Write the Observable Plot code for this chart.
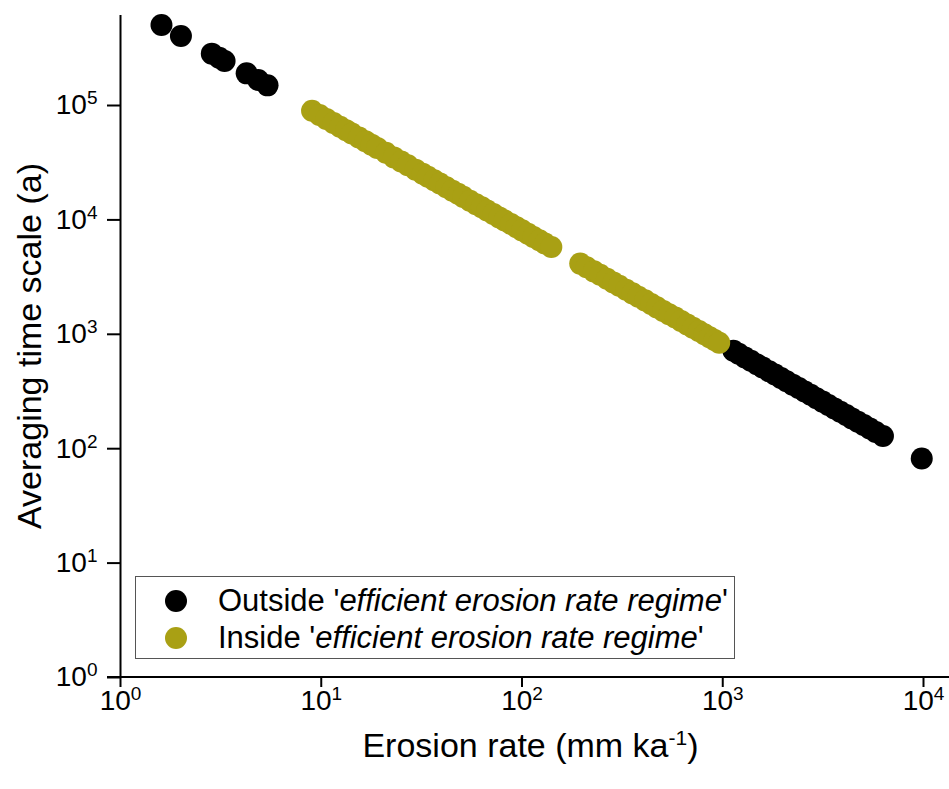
<!DOCTYPE html>
<html>
<head>
<meta charset="utf-8">
<script src="https://cdn.jsdelivr.net/npm/d3@7"></script>
<script src="https://cdn.jsdelivr.net/npm/@observablehq/plot@0.6"></script>
<style>
  body { margin: 0; background: #fff; }
  #wrap { position: relative; width: 949px; height: 789px; font-family: "Liberation Sans", Arial, sans-serif; }
  .legend { position: absolute; left: 135px; top: 576px; width: 600px; height: 83px; border: 1px solid #555; background: #fff; box-sizing: border-box; }
  .row { position: absolute; left: 29px; height: 34px; display: flex; align-items: center; font-size: 31px; color: #000; white-space: nowrap; }
  .sw { width: 22px; height: 22px; border-radius: 50%; margin-right: 31px; flex: none; }
</style>
</head>
<body>
<div id="wrap"></div>
<script>
// ---- data ----
const seriesNames = ["Outside", "Inside"];
const seriesColors = ["#000000", "#a9a014"];
const legendLabels = ["Outside '<i>efficient erosion rate regime</i>'", "Inside '<i>efficient erosion rate regime</i>'"];

// erosion rate (mm/ka) and averaging time scale (a), outside regime
const outsideRate = [1.6, 2.0, 2.85, 3.1, 3.3, 4.25, 4.85, 5.4,
  1130, 1200, 1290, 1380, 1480, 1580, 1700, 1820, 1950, 2080, 2230, 2390, 2560, 2740, 2930, 3140, 3360, 3600, 3850, 4120, 4400, 4710, 5040, 5400, 5780, 6280,
  9800];
const outsideTime = [506000, 405000, 284000, 261000, 245000, 191000, 167000, 150000,
  717, 675, 628, 587, 547, 513, 476, 445, 415, 389, 363, 339, 316, 296, 276, 258, 241, 225, 210, 197, 184, 172, 161, 150, 140, 129,
  82];

// inside regime
const insideRate = [9.0, 9.8, 10.6, 11.5, 12.4, 13.3, 14.2, 15.4, 16.6, 17.8, 19, 21, 23, 25, 27, 29.5, 32, 34, 36.5, 39, 42, 45, 48, 51, 55, 59, 63, 67, 72, 77, 82, 88, 94, 100, 107, 114, 122, 130, 140,
  195, 210, 228, 245, 265, 285, 305, 330, 355, 380, 410, 440, 470, 505, 540, 580, 620, 665, 710, 760, 810, 860, 910, 960];
const insideTime = [90000, 82700, 76400, 70400, 65300, 60900, 57000, 52600, 48800, 45500, 42600, 38600, 35200, 32400, 30000, 27500, 25300, 23800, 22200, 20800, 19300, 18000, 16900, 15900, 14700, 13700, 12900, 12100, 11250, 10500, 9880, 9200, 8620, 8100, 7570, 7100, 6640, 6230, 5790,
  4150, 3860, 3550, 3310, 3060, 2840, 2660, 2450, 2280, 2130, 1980, 1840, 1720, 1600, 1500, 1400, 1310, 1220, 1140, 1070, 1000, 942, 890, 844];

const xTicks = [1, 10, 100, 1000, 10000];
const yTicks = [1, 10, 100, 1000, 10000, 100000];
const xDomain = [1, 10000];
const yDomain = [1, 612000];
const xTitle = "Erosion rate (mm ka";
const xTitleSup = "-1";
const yTitle = "Averaging time scale (a)";

// ---- table ----
const data = [
  ...outsideRate.map((r, i) => ({rate: r, time: outsideTime[i], group: seriesNames[0]})),
  ...insideRate.map((r, i) => ({rate: r, time: insideTime[i], group: seriesNames[1]}))
];

const chart = Plot.plot({
  width: 949,
  height: 789,
  marginLeft: 120,
  marginRight: 26,
  marginTop: 15,
  marginBottom: 112,
  style: { fontFamily: "'Liberation Sans', Arial, sans-serif", fontSize: "28px", color: "#000", background: "#fff" },
  x: { type: "log", domain: xDomain },
  y: { type: "log", domain: yDomain },
  color: { domain: seriesNames, range: seriesColors },
  marks: [
    Plot.axisX({ ticks: xTicks, tickSize: 10, tickPadding: 3, tickFormat: d => String(Math.round(Math.log10(d))), label: null, strokeWidth: 2 }),
    Plot.axisY({ ticks: yTicks, tickSize: 13, tickPadding: 10, tickFormat: d => String(Math.round(Math.log10(d))), label: null, strokeWidth: 2 }),
    Plot.ruleX([xDomain[0]], { y1: yDomain[0], y2: yDomain[1], strokeWidth: 2 }),
    Plot.dot(data.filter(d => d.group === seriesNames[0]), { x: "rate", y: "time", r: 11, fill: "group" }),
    Plot.dot(data.filter(d => d.group === seriesNames[1]), { x: "rate", y: "time", r: 11, fill: "group" })
  ]
});

const svg = d3.select(chart);
const xs = chart.scale("x"), ys = chart.scale("y");
const y0 = ys.apply(yDomain[0]);
// bottom axis line across to the right edge
svg.append("line").attr("x1", xs.apply(xDomain[0]) - 13).attr("x2", 949).attr("y1", y0).attr("y2", y0)
  .attr("stroke", "#000").attr("stroke-width", 2);

// superscript tick labels
svg.selectAll('g[aria-label="x-axis tick label"], g[aria-label="y-axis tick label"]').style("font-size", "28px");
svg.selectAll('g[aria-label="x-axis tick label"] text, g[aria-label="y-axis tick label"] text').each(function() {
  const t = d3.select(this);
  const e = t.text();
  t.text("").style("font-size", "28px");
  t.append("tspan").style("font-size", "28px").text("10");
  t.append("tspan").attr("dy", "-10").style("font-size", "19px").text(e);
});

// axis titles
const xt = svg.append("text").attr("x", (xs.apply(xDomain[0]) + xs.apply(xDomain[1])) / 2 + 9).attr("y", 757)
  .attr("text-anchor", "middle").style("font-size", "34px").attr("fill", "#000");
xt.append("tspan").text(xTitle);
xt.append("tspan").attr("dy", "-12").style("font-size", "21px").text(xTitleSup);
xt.append("tspan").attr("dy", "12").text(")");

svg.append("text").attr("transform", "translate(41,346) rotate(-90)")
  .attr("text-anchor", "middle").style("font-size", "34px").attr("fill", "#000").text(yTitle);

const wrap = document.getElementById("wrap");
wrap.appendChild(chart);

// legend
const lg = document.createElement("div");
lg.className = "legend";
const rowTops = [7, 44];
seriesNames.forEach((s, i) => {
  const row = document.createElement("div");
  row.className = "row";
  row.style.top = rowTops[i] + "px";
  row.innerHTML = `<span class="sw" style="background:${seriesColors[i]}"></span><span>${legendLabels[i]}</span>`;
  lg.appendChild(row);
});
wrap.appendChild(lg);
</script>
</body>
</html>
